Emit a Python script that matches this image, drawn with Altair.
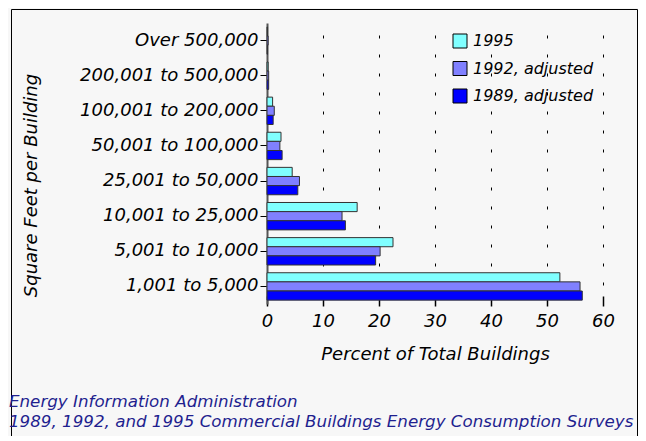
import altair as alt
import pandas as pd

categories = [
    "Over 500,000",
    "200,001 to 500,000",
    "100,001 to 200,000",
    "50,001 to 100,000",
    "25,001 to 50,000",
    "10,001 to 25,000",
    "5,001 to 10,000",
    "1,001 to 5,000",
]
series = ["1995", "1992, adjusted", "1989, adjusted"]
v1995 = [0.1, 0.2, 1.0, 2.5, 4.5, 16.1, 22.5, 52.3]
v1992 = [0.2, 0.3, 1.3, 2.3, 5.8, 13.4, 20.2, 55.9]
v1989 = [0.1, 0.3, 1.1, 2.7, 5.5, 14.0, 19.4, 56.3]
colors = ["#80ffff", "#8080ff", "#0000ff"]
x_ticks = [0, 10, 20, 30, 40, 50, 60]
footer_lines = [
    "Energy Information Administration",
    "1989, 1992, and 1995 Commercial Buildings Energy Consumption Surveys",
]

rows = []
for s, vals in zip(series, [v1995, v1992, v1989]):
    for c, v in zip(categories, vals):
        rows.append({"category": c, "series": s, "value": v})
df = pd.DataFrame(rows)

FONT = "DejaVu Sans"

bars = alt.Chart(df).mark_bar(stroke="#333333", strokeWidth=1, opacity=1).encode(
    x=alt.X(
        "value:Q",
        scale=alt.Scale(domain=[0, 60], nice=False, zero=True),
        axis=alt.Axis(
            values=x_ticks,
            title="Percent of Total Buildings",
            grid=True,
            gridDash=[3, 16],
            gridColor="#000000",
            gridWidth=1,
            gridOpacity=1,
            domain=False,
            tickColor="#000000",
            tickSize=10,
            tickWidth=1.5,
            offset=-8,
            labelPadding=6,
            labelAngle=0,
            labelFlush=False,
            labelFont=FONT,
            labelFontSize=18,
            labelFontStyle="italic",
            labelColor="#000000",
            titleFont=FONT,
            titleFontSize=18,
            titleFontStyle="italic",
            titleFontWeight="normal",
            titleColor="#000000",
            titleY=63,
            titleBaseline="alphabetic",
        ),
    ),
    y=alt.Y(
        "category:N",
        sort=categories,
        scale=alt.Scale(paddingInner=0.22, paddingOuter=0.11),
        axis=alt.Axis(
            title="Square Feet per Building",
            domainColor="#555555",
            domainWidth=2,
            tickColor="#000000",
            tickSize=7,
            labelPadding=2,
            labelFont=FONT,
            labelFontSize=18,
            labelFontStyle="italic",
            labelColor="#000000",
            titleFont=FONT,
            titleFontSize=18,
            titleFontStyle="italic",
            titleFontWeight="normal",
            titleColor="#000000",
            titleAngle=270,
            titleAlign="center",
            titleBaseline="middle",
            titleX=-236,
            titleY=162,
        ),
    ),
    yOffset=alt.YOffset("series:N", sort=series, scale=alt.Scale(paddingInner=0, paddingOuter=0)),
    color=alt.Color(
        "series:N",
        sort=series,
        scale=alt.Scale(domain=series, range=colors),
        legend=alt.Legend(
            title=None,
            orient="none",
            legendX=185,
            legendY=10,
            symbolType="square",
            symbolSize=196,
            symbolStrokeColor="#000000",
            symbolStrokeWidth=1,
            symbolOpacity=1,
            labelFont=FONT,
            labelFontSize=16,
            labelFontStyle="italic",
            labelColor="#000000",
            rowPadding=9.5,
            labelOffset=5,
            padding=0,
        ),
    ),
)

frame = alt.Chart(pd.DataFrame({"k": [0]})).mark_rect(
    fillOpacity=0, stroke="#000000", strokeWidth=1
).encode(
    x=alt.value(-255.5),
    x2=alt.value(370.5),
    y=alt.value(-13.5),
    y2=alt.value(500),
)

footer = alt.Chart(pd.DataFrame({"t": ["\n".join(footer_lines)]})).mark_text(
    align="left",
    baseline="alphabetic",
    lineBreak="\n",
    lineHeight=20,
    font=FONT,
    fontSize=16.7,
    fontStyle="italic",
    color="#1f1f8f",
).encode(
    text="t:N",
    x=alt.value(-258),
    y=alt.value(384),
)

chart = alt.layer(frame, bars, footer).properties(
    width=336,
    height=281,
    autosize=alt.AutoSizeParams(type="none"),
    padding={"left": 259, "top": 15, "right": 35, "bottom": 132},
    background="#f7f7f7",
).configure_view(strokeWidth=0)

chart.save("out.html", embed_options={"renderer": "svg", "actions": False})
